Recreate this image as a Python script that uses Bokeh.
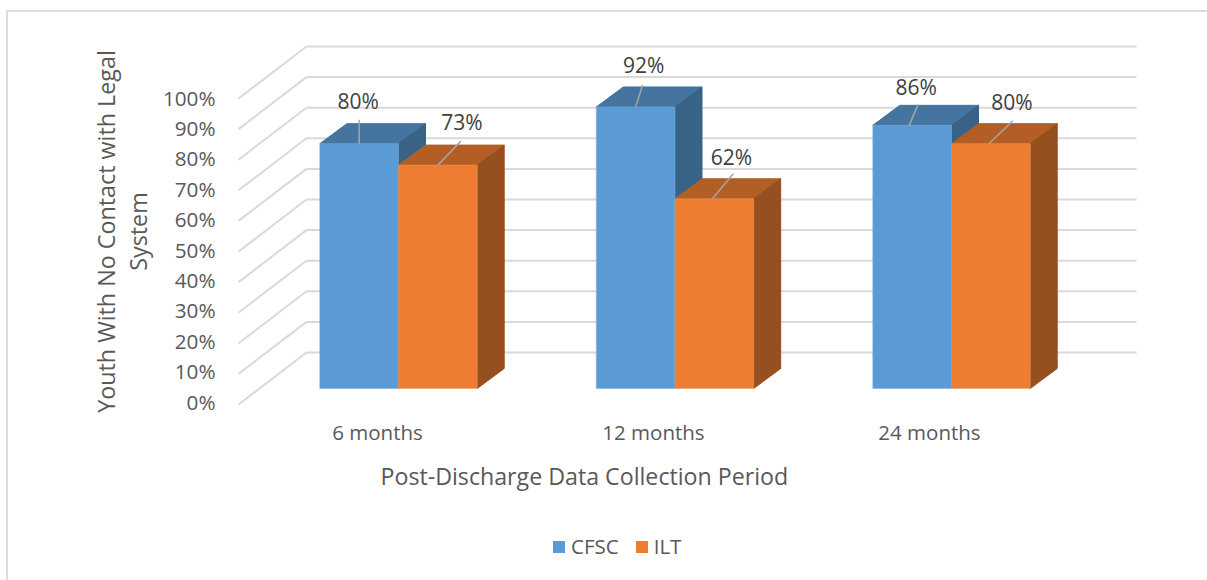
from bokeh.embed import file_html
from bokeh.resources import INLINE
from bokeh.plotting import figure
from bokeh.layouts import column
from bokeh.models import (Range1d, LinearAxis, FixedTicker, PrintfTickFormatter,
                          Legend, LegendItem, Title)
from bokeh.core.properties import value

# ---- data ----
periods = ["6 months", "12 months", "24 months"]
cfsc = [80, 92, 86]
ilt = [73, 62, 80]
y_ticks = [0, 10, 20, 30, 40, 50, 60, 70, 80, 90, 100]
series_names = ["CFSC", "ILT"]
x_title = "Post-Discharge Data Collection Period"
y_title = "Youth With No Contact with Legal\nSystem"

# ---- layout constants (page pixels) ----
FONT = "Open Sans"
BLUE, ORANGE = "#5B9BD5", "#ED7D31"
PAGE_X, PAGE_Y = 8, 12
W, H = 1199, 518
LEG_H = 50
L, R, T, B = 232, 1140, 42, 420
PX_Y = 3.06       # px per percent
PX_X = 276.5      # px per category
Y0 = 388          # front baseline
X0 = 398          # first category centre
BAR = 78.7 / PX_X
DX = 27 / PX_X
DY = 20 / PX_Y

y_range = Range1d((Y0 - B) / PX_Y, (Y0 - T) / PX_Y)
x_range = Range1d((L - X0) / PX_X, (R - X0) / PX_X)

p = figure(width=W, height=H, x_range=x_range, y_range=y_range,
           x_axis_type=None, y_axis_type=None,
           toolbar_location=None, output_backend="svg",
           min_border_left=L - PAGE_X, min_border_right=PAGE_X + W - R,
           min_border_top=T - PAGE_Y, min_border_bottom=PAGE_Y + H - B)
p.margin = 0
p.outline_line_color = None
p.grid.visible = False
p.background_fill_color = "white"
p.border_fill_color = "white"

# axes on their own ranges (the 3D front plane sits lower than the bar baseline)
p.extra_y_ranges["front"] = Range1d((401 - B) / 3.04, (401 - T) / 3.04)
p.extra_x_ranges["cat"] = Range1d((L - 377) / 276.0, (R - 377) / 276.0)

yax = LinearAxis(y_range_name="front", ticker=FixedTicker(ticks=y_ticks),
                 formatter=PrintfTickFormatter(format="%d%%"),
                 axis_label=y_title)
yax.major_label_text_font = FONT
yax.major_label_text_font_size = "20.7px"
yax.major_label_text_color = "#595959"
yax.major_label_standoff = 11
yax.axis_label_text_font = FONT
yax.axis_label_text_font_size = "23.3px"
yax.axis_label_text_font_style = "normal"
yax.axis_label_text_color = "#595959"
yax.axis_label_text_line_height = 1.0
yax.axis_label_standoff = 6
yax.axis_line_color = None
yax.major_tick_line_color = None
yax.minor_tick_line_color = None
p.add_layout(yax, "left")

xax = LinearAxis(x_range_name="cat", ticker=FixedTicker(ticks=list(range(len(periods)))),
                 major_label_overrides={i: s for i, s in enumerate(periods)})
xax.major_label_text_font = FONT
xax.major_label_text_font_size = "20.5px"
xax.major_label_text_color = "#595959"
xax.major_label_standoff = -9
xax.axis_line_color = None
xax.major_tick_line_color = None
xax.minor_tick_line_color = None
p.add_layout(xax, "below")

# ---- walls ----
bx0, bx1 = (306 - X0) / PX_X, (1136 - X0) / PX_X
fx = (238 - X0) / PX_X
back = (Y0 - 352) / PX_Y
front = (Y0 - 404) / PX_Y
GRID = "#d9d9d9"
p.multi_line([[bx0, bx1] for _ in y_ticks], [[t + back, t + back] for t in y_ticks],
             line_color=GRID, line_width=2)
p.multi_line([[fx, bx0] for _ in y_ticks], [[t + front, t + back] for t in y_ticks],
             line_color=GRID, line_width=2)


def bars(values, offset, face, top, side, edge):
    xs_l = [i + offset for i in range(len(values))]
    xs_r = [x + BAR for x in xs_l]
    p.patches([[a, b, b + DX, a + DX] for a, b in zip(xs_l, xs_r)],
              [[v, v, v + DY, v + DY] for v in values],
              fill_color=top, line_color=top)
    p.patches([[b, b + DX, b + DX, b] for b in xs_r],
              [[0, DY, v + DY, v] for v in values],
              fill_color=side, line_color=side)
    return p.quad(left=xs_l, right=xs_r, bottom=[0] * len(values), top=values,
                  fill_color=face, line_color=edge, line_alpha=0.5, line_width=1)


bars(cfsc, -BAR, BLUE, "#44749F", "#386286", "#7fb0de")
bars(ilt, 0, ORANGE, "#B25E25", "#964F1E", "#f29a5c")

# ---- data labels and leader lines: (start dx, end dx, end dy) in px from the bar-top centre ----
series = [(cfsc, -BAR / 2), (ilt, BAR / 2)]
leader = [[(0, 0, 24), (0, 7, 22), (-3, 6, 21)], [(0, 23, 24), (-2, 19, 25), (-2, 22, 23)]]
lab_off = [[(-1, 43), (8, 42), (4, 38)], [(24, 43), (17, 42), (21, 42)]]
for s, (vals, off) in enumerate(series):
    for i, v in enumerate(vals):
        cx = i + off
        sx, ex, ey = leader[s][i]
        p.line([cx + sx / PX_X, cx + ex / PX_X], [v, v + ey / PX_Y],
               line_color="#a6a6a6", line_width=1.5)
        tx, ty = lab_off[s][i]
        p.text([cx + tx / PX_X], [v + ty / PX_Y], text=[f"{v}%"],
               text_font=value(FONT), text_font_size="21px", text_color="#404040",
               text_align="center", text_baseline="middle")

# ---- x title ----
p.add_layout(Title(text=x_title, align="left", offset=380 - L, standoff=19,
                   text_font=FONT, text_font_size="23.2px", text_font_style="normal",
                   text_color="#595959"), "below")

# ---- legend strip (its own small figure, so the legend can sit off-centre) ----
q = figure(width=W, height=LEG_H, x_range=Range1d(1, 2), y_range=Range1d(1, 2),
           x_axis_type=None, y_axis_type=None, toolbar_location=None, output_backend="svg",
           min_border=0, margin=0)
q.outline_line_color = None
q.grid.visible = False
k1 = q.quad(left=[0], right=[0], bottom=[0], top=[0], fill_color=BLUE, line_color=None)
k2 = q.quad(left=[0], right=[0], bottom=[0], top=[0], fill_color=ORANGE, line_color=None)
legend = Legend(items=[LegendItem(label=series_names[0], renderers=[k1]),
                       LegendItem(label=series_names[1], renderers=[k2])],
                orientation="horizontal", location=(551 - L, 20),
                glyph_width=15, glyph_height=15, padding=0, margin=0, spacing=15,
                label_standoff=5, border_line_color=None, background_fill_alpha=0,
                label_text_font=FONT, label_text_font_size="20.5px", label_text_color="#595959")
q.add_layout(legend, "center")

page = column(p, q, spacing=0, margin=(PAGE_Y, 0, 0, PAGE_X),
              styles={"box-shadow": "0 -2px 0 #dcdcdc, -2px 0 0 #dcdcdc, -2px -2px 0 #dcdcdc"})

open("out.html", "w").write(file_html(page, INLINE))
